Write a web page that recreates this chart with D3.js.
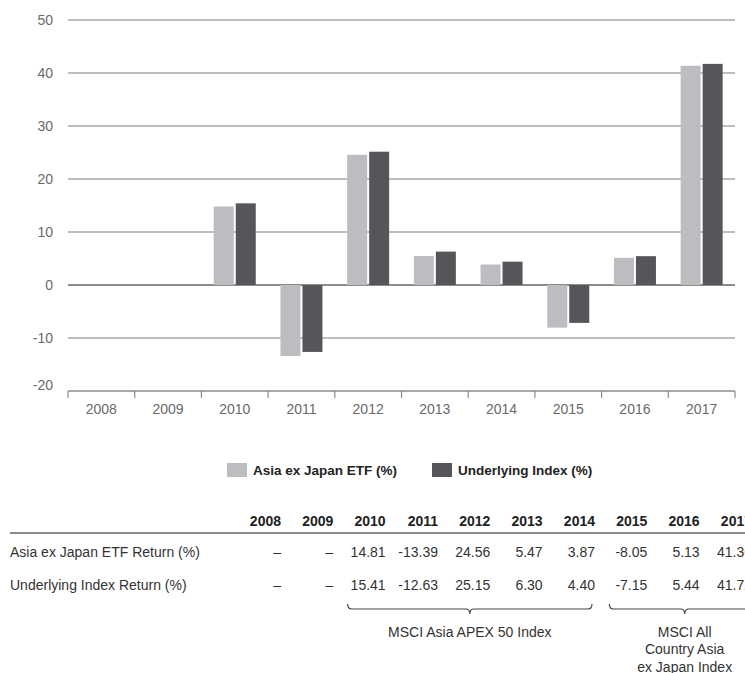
<!DOCTYPE html>
<html>
<head>
<meta charset="utf-8">
<script src="https://cdn.jsdelivr.net/npm/d3@7"></script>
<style>
  html, body { margin: 0; padding: 0; background: #fff; }
  svg { display: block; font-family: "Liberation Sans", Arial, Helvetica, sans-serif; }
</style>
</head>
<body>
<svg id="chart" width="745" height="673"></svg>
<script>
// Calendar years shown on the axis and in the table
const years = ["2008", "2009", "2010", "2011", "2012", "2013", "2014", "2015", "2016", "2017"];

// Annual returns (%); null = no return for that year
const etfReturns   = [null, null, 14.81, -13.39, 24.56, 5.47, 3.87, -8.05, 5.13, 41.36];
const indexReturns = [null, null, 15.41, -12.63, 25.15, 6.30, 4.40, -7.15, 5.44, 41.72];

const seriesNames = ["Asia ex Japan ETF (%)", "Underlying Index (%)"];
const rowLabels = ["Asia ex Japan ETF Return (%)", "Underlying Index Return (%)"];
const yTicks = [-20, -10, 0, 10, 20, 30, 40, 50];

// Benchmark periods shown under the table (first and last year covered)
const benchmarks = [
  { lines: ["MSCI Asia APEX 50 Index"], from: "2010", to: "2014" },
  { lines: ["MSCI All", "Country Asia", "ex Japan Index"], from: "2015", to: "2017" }
];

const colors = ["#bcbdc1", "#55565a"];
const svg = d3.select("#chart");

// ---- Bar chart ----
const x0 = d3.scaleBand().domain(years).range([68, 735]).padding(0);
const x1 = d3.scaleBand().domain([0, 1])
  .range([x0.bandwidth() / 2 - 21, x0.bandwidth() / 2 + 21])
  .paddingInner(0.0909);
const y = d3.scaleLinear().domain([-20, 50]).range([391, 20]);

// Horizontal gridlines
svg.append("g").selectAll("line")
  .data(yTicks.filter(t => t > -20))
  .join("line")
  .attr("x1", 68).attr("x2", 735)
  .attr("y1", d => y(d)).attr("y2", d => y(d))
  .attr("stroke", d => d === 0 ? "#8c8c8c" : "#a8a8a8")
  .attr("stroke-width", d => d === 0 ? 2 : 1.5);

// Y-axis labels (the bottom one sits a little above the axis line)
svg.append("g").selectAll("text")
  .data(yTicks)
  .join("text")
  .attr("x", 53)
  .attr("y", d => y(d) - (d === -20 ? 6 : 0))
  .attr("dy", "0.35em")
  .attr("text-anchor", "end")
  .attr("font-size", 14)
  .attr("fill", "#6a6a6a")
  .text(d => d);

// Bars
const barData = years.map((yr, i) => ({ yr, vals: [etfReturns[i], indexReturns[i]] }));
svg.append("g").selectAll("g")
  .data(barData)
  .join("g")
  .attr("transform", d => `translate(${x0(d.yr)},0)`)
  .selectAll("rect")
  .data(d => d.vals.map((v, k) => ({ k, v })).filter(e => e.v !== null))
  .join("rect")
  .attr("x", e => x1(e.k))
  .attr("width", x1.bandwidth())
  .attr("y", e => y(Math.max(0, e.v)))
  .attr("height", e => Math.abs(y(e.v) - y(0)))
  .attr("fill", e => colors[e.k]);

// Category axis along the bottom
const xAxis = svg.append("g").attr("transform", "translate(0,391)");
xAxis.append("line")
  .attr("x1", 68).attr("x2", 735)
  .attr("stroke", "#8c8c8c").attr("stroke-width", 1.5);
xAxis.selectAll(".tk")
  .data(years.map(d => x0(d)).concat([x0.range()[1]]))
  .join("line")
  .attr("class", "tk")
  .attr("x1", d => d).attr("x2", d => d)
  .attr("y1", 0).attr("y2", 7)
  .attr("stroke", "#8c8c8c").attr("stroke-width", 1.2);
xAxis.selectAll("text")
  .data(years)
  .join("text")
  .attr("x", d => x0(d) + x0.bandwidth() / 2)
  .attr("y", 18)
  .attr("dy", "0.35em")
  .attr("text-anchor", "middle")
  .attr("font-size", 14)
  .attr("fill", "#6a6a6a")
  .text(d => d);

// ---- Legend ----
const legendX = [227, 432];
const legend = svg.append("g").selectAll("g")
  .data(seriesNames)
  .join("g")
  .attr("transform", (d, i) => `translate(${legendX[i]},463)`);
legend.append("rect").attr("width", 20).attr("height", 14).attr("fill", (d, i) => colors[i]);
legend.append("text")
  .attr("x", 26).attr("y", 7).attr("dy", "0.35em")
  .attr("font-size", 13.5).attr("font-weight", "bold").attr("fill", "#222")
  .text(d => d);

// ---- Data table (the last column runs past the right edge) ----
const col = d3.scalePoint().domain(years).range([281, 752]);
const table = svg.append("g");
table.selectAll(".hdr")
  .data(years)
  .join("text")
  .attr("class", "hdr")
  .attr("x", d => col(d)).attr("y", 521).attr("dy", "0.35em")
  .attr("text-anchor", "end")
  .attr("font-size", 14).attr("font-weight", "bold").attr("fill", "#222")
  .text(d => d);
table.append("line")
  .attr("x1", 10).attr("x2", 745)
  .attr("y1", 533).attr("y2", 533)
  .attr("stroke", "#8a8a8a").attr("stroke-width", 2);

const rows = [etfReturns, indexReturns];
const rowY = [552, 585];
rows.forEach((vals, r) => {
  table.append("text")
    .attr("x", 10).attr("y", rowY[r]).attr("dy", "0.35em")
    .attr("font-size", 14).attr("fill", "#333")
    .text(rowLabels[r]);
  table.selectAll(".r" + r)
    .data(years.map((yr, i) => ({ yr, v: vals[i] })))
    .join("text")
    .attr("class", "r" + r)
    .attr("x", d => col(d.yr)).attr("y", rowY[r]).attr("dy", "0.35em")
    .attr("text-anchor", "end")
    .attr("font-size", 14).attr("fill", "#333")
    .text(d => d.v === null ? "\u2013" : d.v.toFixed(2));
});

// ---- Benchmark braces ----
function bracePath(xa, xb) {
  const cx = (xa + xb) / 2, top = 604, mid = 609, tip = 614, r = 4;
  return `M${xa},${top} Q${xa},${mid} ${xa + r},${mid} L${cx - r},${mid} Q${cx},${mid} ${cx},${tip}` +
         ` Q${cx},${mid} ${cx + r},${mid} L${xb - r},${mid} Q${xb},${mid} ${xb},${top}`;
}
const braceEnds = d => [col(d.from) - 38, col(d.to) + (d.to === "2017" ? 8 : -3)];
const braceG = svg.append("g").selectAll("g").data(benchmarks).join("g");
braceG.append("path")
  .attr("d", d => bracePath(...braceEnds(d)))
  .attr("fill", "none").attr("stroke", "#444").attr("stroke-width", 1.2);
braceG.each(function (d) {
  const [xa, xb] = braceEnds(d);
  d3.select(this).selectAll("text")
    .data(d.lines)
    .join("text")
    .attr("x", (xa + xb) / 2)
    .attr("y", (t, i) => 632 + i * 17.5).attr("dy", "0.35em")
    .attr("text-anchor", "middle")
    .attr("font-size", 14).attr("fill", "#333")
    .text(t => t);
});
</script>
</body>
</html>
